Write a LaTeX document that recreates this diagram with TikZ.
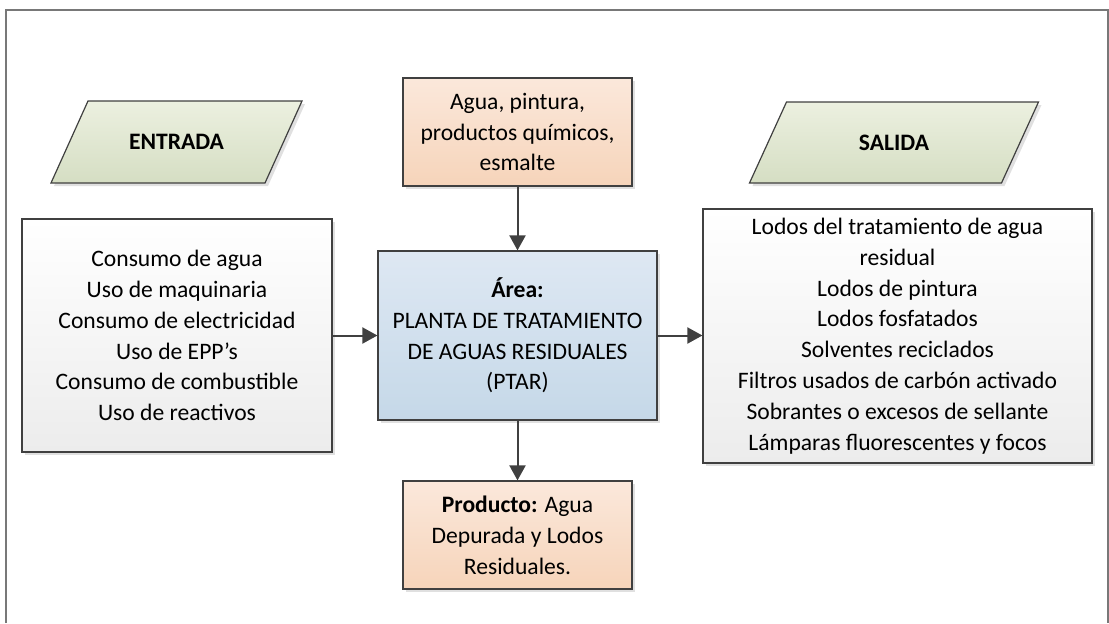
\documentclass[tikz,border=0pt]{standalone}
\usepackage{fontspec}
\setmainfont{Carlito}
\usepackage{tikz}
\usetikzlibrary{arrows.meta}
\usetikzlibrary{shadows}
\usetikzlibrary{calc}
\usetikzlibrary{math}

\definecolor{boxline}{RGB}{64,64,64}
\definecolor{frameline}{RGB}{120,120,120}
\definecolor{greentop}{RGB}{236,240,224}
\definecolor{greenbot}{RGB}{213,222,195}
\definecolor{orangetop}{RGB}{251,232,219}
\definecolor{orangebot}{RGB}{246,212,186}
\definecolor{bluetop}{RGB}{222,232,243}
\definecolor{bluebot}{RGB}{197,216,232}
\definecolor{greytop}{RGB}{255,255,255}
\definecolor{greybot}{RGB}{236,236,236}

\tikzset{
  shade/.style={drop shadow={shadow xshift=1.5pt, shadow yshift=-1.5pt, fill=black!12, opacity=1}},
  box/.style={draw=boxline, line width=0.6pt, align=center, inner sep=0pt, shade},
  io/.style={draw=boxline, line width=0.6pt, shade, top color=greentop, bottom color=greenbot},
  listbox/.style={box, top color=greytop, bottom color=greybot},
  flowbox/.style={box, top color=orangetop, bottom color=orangebot},
  areabox/.style={box, top color=bluetop, bottom color=bluebot},
  flow/.style={draw=boxline, line width=1pt, -{Triangle[length=7.5pt,width=8pt]}},
}

\begin{document}
\begin{tikzpicture}[x=0.5pt,y=-0.5pt,font=\fontsize{11.8pt}{15.4pt}\selectfont]

  \tikzmath{
    \midx  = 517.5; % vertical axis of the middle column
    \midy  = 335.5; % horizontal axis of the middle row
    \slant = 18.5;  % half the sideways shift of the parallelograms
  }

  \useasboundingbox (0,0) rectangle (1109,623);

  % outer frame, open at the bottom
  \draw[frameline, line width=0.75pt] (6,623) -- (6,10) -- (1108,10) -- (1108,623);

  % headings: slanted outline first, text on top
  \coordinate (InC) at (176.5,142);
  \coordinate (OutC) at (894,142.5);
  \path[io] ($(InC)+(-107-\slant,41)$) -- ($(InC)+(107-\slant,41)$)
    -- ($(InC)+(107+\slant,-41)$) -- ($(InC)+(-107+\slant,-41)$) -- cycle;
  \path[io] ($(OutC)+(-126-\slant,40.5)$) -- ($(OutC)+(126-\slant,40.5)$)
    -- ($(OutC)+(126+\slant,-40.5)$) -- ($(OutC)+(-126+\slant,-40.5)$) -- cycle;
  \node (In) at (InC) {\textbf{ENTRADA}};
  \node (Out) at (OutC) {\textbf{SALIDA}};

  % middle column
  \node[flowbox, minimum width=114.5pt, minimum height=54pt] (Top) at (\midx,132)
    {Agua, pintura,\\productos químicos,\\esmalte};
  \node[areabox, minimum width=139.5pt, minimum height=84.5pt] (Area) at (\midx,\midy)
    {\textbf{Área:}\\PLANTA DE TRATAMIENTO\\DE AGUAS RESIDUALES\\(PTAR)};
  \node[flowbox, minimum width=114.5pt, minimum height=54pt] (Bot) at (\midx,535)
    {\textbf{Producto:} Agua\\Depurada y Lodos\\Residuales.};

  % lists
  \node[listbox, minimum width=155pt, minimum height=116.5pt] (InList) at (177,\midy)
    {Consumo de agua\\Uso de maquinaria\\Consumo de electricidad\\Uso de EPP’s\\
     Consumo de combustible\\Uso de reactivos};
  \node[listbox, minimum width=194.5pt, minimum height=127pt] (OutList) at (897.5,336)
    {Lodos del tratamiento de agua\\residual\\Lodos de pintura\\Lodos fosfatados\\
     Solventes reciclados\\Filtros usados de carbón activado\\
     Sobrantes o excesos de sellante\\Lámparas fluorescentes y focos};

  % connectors
  \draw[flow] (Top) -- (Area);
  \draw[flow] (Area) -- (Bot);
  \draw[flow] (InList.east |- Area.west) -- (Area.west);
  \draw[flow] (Area.east) -- (Area.east -| OutList.west);

\end{tikzpicture}
\end{document}
